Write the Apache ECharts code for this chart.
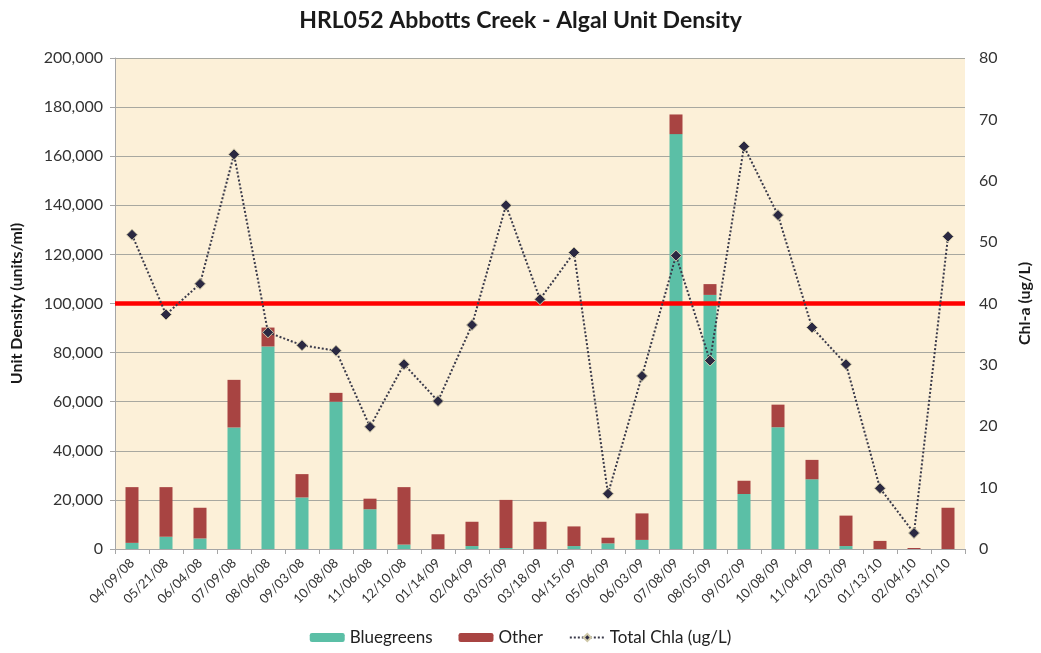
<!DOCTYPE html>
<html>
<head>
<meta charset="utf-8">
<script src="https://cdn.jsdelivr.net/npm/echarts@6/dist/echarts.min.js"></script>
<style>
html,body{margin:0;padding:0;background:#fff;}
#chart{width:1041px;height:653px;}
</style>
</head>
<body>
<div id="chart"></div>
<script>
const categories = ['04/09/08','05/21/08','06/04/08','07/09/08','08/06/08','09/03/08','10/08/08','11/06/08','12/10/08','01/14/09','02/04/09','03/05/09','03/18/09','04/15/09','05/06/09','06/03/09','07/08/09','08/05/09','09/02/09','10/08/09','11/04/09','12/03/09','01/13/10','02/04/10','03/10/10'];
const bluegreens = [2500, 5000, 4300, 49500, 82500, 21000, 60000, 16200, 1800, 0, 1200, 400, 0, 1200, 2300, 3700, 169000, 103500, 22400, 49600, 28400, 1200, 0, 0, 0];
const other = [22700, 20200, 12500, 19400, 7700, 9500, 3600, 4300, 23400, 6000, 9900, 19600, 11100, 8000, 2300, 10800, 8000, 4400, 5400, 9200, 7900, 12400, 3300, 400, 16800];
const chla = [51.2, 38.2, 43.2, 64.3, 35.3, 33.2, 32.3, 19.9, 30.1, 24.1, 36.5, 56.0, 40.7, 48.3, 9.0, 28.2, 47.8, 30.7, 65.6, 54.4, 36.1, 30.1, 9.9, 2.6, 50.9];
const threshold = 100000;

const FONT = 'Lato';
const chart = echarts.init(document.getElementById('chart'));
chart.setOption({
  animation: false,
  backgroundColor: '#ffffff',
  title: {
    text: 'HRL052 Abbotts Creek - Algal Unit Density',
    left: 'center', top: 4,
    textStyle: {fontFamily: FONT, fontWeight: 'bold', fontSize: 23, color: '#1a1a1a'}
  },
  legend: {
    bottom: 2, left: 'center',
    itemWidth: 35, itemHeight: 9, itemGap: 26,
    textStyle: {fontFamily: FONT, fontSize: 17, color: '#222'},
    data: ['Bluegreens', 'Other', 'Total Chla (ug/L)']
  },
  grid: {
    left: 115, right: 68, top: 58, bottom: 104,
    show: true, backgroundColor: '#fcf0d8', borderWidth: 0
  },
  xAxis: {
    type: 'category', data: categories,
    axisLine: {lineStyle: {color: '#a6a6a6'}},
    axisTick: {show: true, alignWithLabel: false, length: 5, lineStyle: {color: '#a6a6a6'}},
    axisLabel: {rotate: 45, interval: 0, fontFamily: FONT, fontSize: 13, color: '#333', margin: 12}
  },
  yAxis: [{
    type: 'value', min: 0, max: 200000, interval: 20000,
    name: 'Unit Density (units/ml)', nameLocation: 'middle', nameGap: 90,
    nameTextStyle: {fontFamily: FONT, fontWeight: 'bold', fontSize: 16, color: '#1a1a1a'},
    axisLine: {show: true, lineStyle: {color: '#a6a6a6'}},
    axisTick: {show: true, length: 5, lineStyle: {color: '#a6a6a6'}},
    axisLabel: {fontFamily: FONT, fontSize: 16, color: '#333', margin: 12,
      formatter: v => v.toLocaleString('en-US')},
    splitLine: {lineStyle: {color: '#a8a8a0', width: 1}}
  }, {
    type: 'value', min: 0, max: 80, interval: 10,
    name: 'Chl-a (ug/L)', nameLocation: 'middle', nameGap: 52,
    nameTextStyle: {fontFamily: FONT, fontWeight: 'bold', fontSize: 16, color: '#1a1a1a'},
    axisLine: {show: false},
    axisTick: {show: false},
    axisLabel: {fontFamily: FONT, fontSize: 16, color: '#333', margin: 14},
    splitLine: {show: false}
  }],
  series: [{
    name: 'Bluegreens', type: 'bar', stack: 'u', data: bluegreens,
    barWidth: 13, itemStyle: {color: '#5bbfa6'}
  }, {
    name: 'Other', type: 'bar', stack: 'u', data: other,
    barWidth: 13, itemStyle: {color: '#a84442'},
    markLine: {
      silent: true, symbol: 'none', z: 5,
      label: {show: false},
      lineStyle: {color: '#ff0000', width: 4.5, type: 'solid'},
      data: [{yAxis: threshold}]
    }
  }, {
    name: 'Total Chla (ug/L)', type: 'line', yAxisIndex: 1, data: chla,
    z: 10,
    symbol: 'diamond', symbolSize: 11,
    lineStyle: {color: '#3a3a4a', width: 2, type: 'dotted'},
    itemStyle: {color: '#2b2942', borderColor: '#cfc8a8', borderWidth: 1}
  }]
});
</script>
</body>
</html>
